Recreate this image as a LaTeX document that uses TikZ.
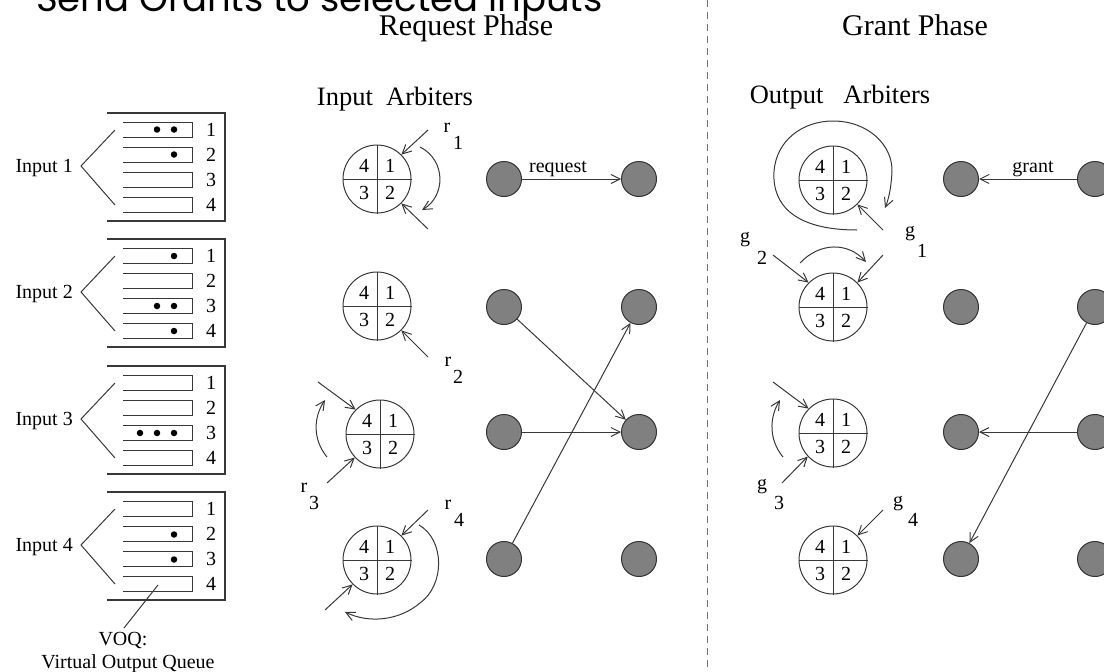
\documentclass[tikz,border=0pt]{standalone}
\usepackage{fontspec}
\setmainfont{Liberation Serif}
\newfontfamily\bannerfont{Poppins}
\usetikzlibrary{arrows.meta}

\definecolor{ink}{gray}{0.22}
\definecolor{portfill}{gray}{0.5}

\tikzset{
  ln/.style={draw=ink, line width=1pt},
  arr/.style={ln, -{Straight Barb[length=9pt,width=9pt]}},
  arbiter/.style={circle, draw=ink, line width=1pt, minimum size=68pt, inner sep=0pt},
  port/.style={circle, draw=black!80, line width=1pt, fill=portfill, minimum size=35pt, inner sep=0pt},
  pkt/.style={circle, fill=black, minimum size=6.5pt, inner sep=0pt},
  txt/.style={font=\fontsize{20}{22}\selectfont, inner sep=0pt},
  head/.style={font=\fontsize{30}{34}\selectfont, inner sep=0pt},
  sub/.style={font=\fontsize{26.5}{29}\selectfont, inner sep=0pt},
}

% an arbiter: circle split in four numbered quadrants
\newcommand{\arbiternode}[3]{%
  \node[arbiter] (#1) at (#2,#3) {};
  \draw[ln] (#1.north) -- (#1.south) (#1.west) -- (#1.east);
  \node[txt] at (#2-13,#3-13) {4};
  \node[txt] at (#2+13,#3-13) {1};
  \node[txt] at (#2-13,#3+14) {3};
  \node[txt] at (#2+13,#3+14) {2};
}

\begin{document}
\begin{tikzpicture}[x=1pt,y=-1pt]
\useasboundingbox (0,0) rectangle (1104,672);
\clip (0,0) rectangle (1104,672);

% banner running off the top edge
\node[anchor=base west, inner sep=0pt, font=\bannerfont\fontsize{37}{40}\selectfont] (banner) at (36,11) {Send Grants to selected inputs};

% phase headings and the divider
\node[head, anchor=base] (reqhead) at (466,35) {Request Phase};
\node[head, anchor=base] (granthead) at (915,35) {Grant Phase};
\draw[draw=black!55, line width=1pt, dash pattern=on 7pt off 5pt] (707,0) -- (707,668);

\node[sub, anchor=base] (inarb) at (395,105) {Input\ \ Arbiters};
\node[sub, anchor=base] (outarb) at (840,103) {Output\hspace{20pt}Arbiters};

% ---------- input ports with virtual output queues ----------
\foreach \g/\T in {1/113, 2/239, 3/366, 4/492} {
  \node[txt, anchor=base east] (in\g) at (73,\T+59) {Input \g};
  \draw[ln] (115,\T+17) -- (81,\T+53) -- (115,\T+92);
  \draw[ln, line width=1.3pt] (107,\T) -- (225,\T) -- (225,\T+108) -- (107,\T+108);
  \foreach \k in {1,2,3,4} {
    \draw[ln] (123,\T+9+25*\k-25) -- (192,\T+9+25*\k-25) -- (192,\T+24.5+25*\k-25) -- (123,\T+24.5+25*\k-25);
    \node[txt] (q\g\k) at (211,\T+17+25*\k-25) {\k};
  }
}
% queued cells
\foreach \x/\y in {157/129.5, 174/129.5, 174/154.5,
                   174/256, 157/306, 174/306, 174/331,
                   140/433, 157/433, 174/433,
                   174/534.5, 174/559.5} {
  \node[pkt] at (\x,\y) {};
}
\node[txt, anchor=base] (voq) at (123,645) {VOQ:};
\node[txt, anchor=base] (voqname) at (128,668) {Virtual Output Queue};
\coordinate (voqq) at (158,585);
\draw[ln] (voqq) -- (124,628);

% ---------- request phase ----------
\arbiternode{ia1}{377}{179}
\arbiternode{ia2}{377}{306}
\arbiternode{ia3}{380}{434}
\arbiternode{ia4}{377}{560}

% arbiter 1
\coordinate (r1s) at (428,130);
\draw[arr] (r1s) -- (ia1.45);
\draw[arr] (420,147) .. controls (446,160) and (446,196) .. (422,210);
\coordinate (a1s) at (428,229);
\draw[arr] (a1s) -- (ia1.-45);
\node[txt] at (447,128) {r};
\node[txt] at (458,143) {1};

% arbiter 2
\coordinate (r2s) at (428,357);
\draw[arr] (r2s) -- (ia2.-45);
\node[txt] at (448,362) {r};
\node[txt] at (458,377) {2};

% arbiter 3
\coordinate (a3s) at (318,382);
\draw[arr] (a3s) -- (ia3.135);
\draw[arr] (327,457) .. controls (313,440) and (313,418) .. (325,400);
\coordinate (r3s) at (327,483);
\draw[arr] (r3s) -- (ia3.-137);
\node[txt] at (304,488) {r};
\node[txt] at (314,503) {3};

% arbiter 4
\coordinate (r4s) at (428,510);
\draw[arr] (r4s) -- (ia4.45);
\draw[arr] (419,525) .. controls (445,540) and (445,585) .. (420,603) .. controls (400,620) and (370,624) .. (345,612);
\coordinate (a4s) at (325,610);
\draw[arr] (a4s) -- (ia4.-135);
\node[txt] at (448,505) {r};
\node[txt] at (459,520) {4};

% request ports
\foreach \i/\y in {1/179, 2/307, 3/432, 4/559} {
  \node[port] (L\i) at (504,\y) {};
  \node[port] (R\i) at (639,\y) {};
}
\draw[arr] (L1) -- (R1);
\node[txt, anchor=base] (reqlbl) at (558,172) {request};
\draw[arr] (L2) -- (R3);
\draw[arr] (L3) -- (R3);
\draw[arr] (L4) -- (R2);

% ---------- grant phase ----------
\arbiternode{oa1}{833}{180}
\arbiternode{oa2}{833}{307}
\arbiternode{oa3}{833}{433}
\arbiternode{oa4}{833}{560}

% arbiter 1: pointer swept around to 2
\draw[arr] (857,230) .. controls (795,230) and (772,205) .. (774,172) .. controls (776,140) and (803,121) .. (833,121) .. controls (868,121) and (893,145) .. (892,172) .. controls (891,188) and (889,198) .. (885,208);
\coordinate (g1s) at (883,230);
\draw[arr] (g1s) -- (oa1.-45);
\node[txt] at (910,234) {g};
\node[txt] at (922,251) {1};

% arbiter 2
\coordinate (g2s) at (773,255);
\draw[arr] (g2s) -- (oa2.135);
\draw[arr] (800,263) .. controls (820,242) and (848,242) .. (866,262);
\coordinate (b2s) at (883,255);
\draw[arr] (b2s) -- (oa2.45);
\node[txt] at (745,240) {g};
\node[txt] at (762,258) {2};

% arbiter 3
\coordinate (b3s) at (773,382);
\draw[arr] (b3s) -- (oa3.135);
\draw[arr] (783,457) .. controls (769,440) and (769,418) .. (780,400);
\coordinate (g3s) at (782,483);
\draw[arr] (g3s) -- (oa3.-137);
\node[txt] at (762,487) {g};
\node[txt] at (779,503) {3};

% arbiter 4
\coordinate (g4s) at (883,510);
\draw[arr] (g4s) -- (oa4.45);
\node[txt] at (898,504) {g};
\node[txt] at (913,520) {4};

% grant ports
\foreach \i/\y in {1/179, 2/307, 3/432, 4/559} {
  \node[port] (GL\i) at (961,\y) {};
  \node[port] (GR\i) at (1095,\y) {};
}
\draw[arr] (GR1) -- (GL1);
\node[txt, anchor=base] (grantlbl) at (1033,172) {grant};
\draw[arr] (GR3) -- (GL3);
\draw[arr] (GR2) -- (GL4);

\end{tikzpicture}
\end{document}
